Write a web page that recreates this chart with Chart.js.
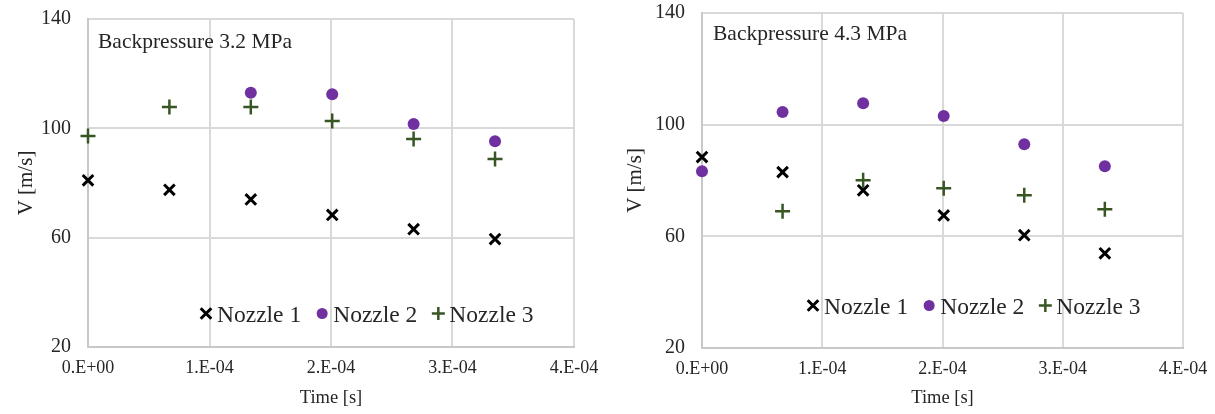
<!DOCTYPE html>
<html><head><meta charset="utf-8">
<script src="https://cdn.jsdelivr.net/npm/chart.js@4/dist/chart.umd.min.js"></script>
<style>
html,body{margin:0;padding:0;background:#fff;}
#wrap{position:relative;width:1215px;height:414px;overflow:hidden;}
#c1{position:absolute;left:0;top:0;}
#c2{position:absolute;left:600px;top:0;}
</style></head><body>
<div id="wrap"><canvas id="c1" width="600" height="414"></canvas><canvas id="c2" width="615" height="414"></canvas></div>
<script>
// ---- data ----
const timeValues = [0, 6.7e-5, 1.34e-4, 2.01e-4, 2.68e-4, 3.35e-4];
const seriesNames = ['Nozzle 1', 'Nozzle 2', 'Nozzle 3'];
const bp32Nozzle1 = [81.0, 77.5, 74.0, 68.3, 63.1, 59.5];
const bp32Nozzle2 = [null, null, 113.0, 112.5, 101.6, 95.3];
const bp32Nozzle3 = [97.2, 107.8, 107.8, 102.7, 96.1, 88.8];
const bp43Nozzle1 = [88.4, 83.0, 76.5, 67.5, 60.4, 53.9];
const bp43Nozzle2 = [83.3, 104.5, 107.7, 103.1, 93.0, 85.1];
const bp43Nozzle3 = [null, 69.0, 80.1, 77.2, 74.7, 69.7];
const yTicks = [20, 60, 100, 140];
const xTicks = [0, 1e-4, 2e-4, 3e-4, 4e-4];
const xTickLabels = ['0.E+00', '1.E-04', '2.E-04', '3.E-04', '4.E-04'];
const panelTitles = ['Backpressure 3.2 MPa', 'Backpressure 4.3 MPa'];
const xTitle = 'Time [s]';
const yTitle = 'V [m/s]';

// ---- styles ----
const SERIF = "'Liberation Serif', 'Times New Roman', serif";
const TEXT = '#262626';
const styles = [
  {pointStyle: 'crossRot', radius: 7.5, borderWidth: 3, borderColor: '#000000', backgroundColor: '#000000', legendRadius: 7.5},
  {pointStyle: 'circle', radius: 6, borderWidth: 0, borderColor: '#7030a0', backgroundColor: '#7030a0', legendRadius: 5.5},
  {pointStyle: 'cross', radius: 7.5, borderWidth: 2.5, borderColor: '#375623', backgroundColor: '#375623', legendRadius: 6.5}
];

function toPoints(vals) {
  const out = [];
  vals.forEach((v, i) => { if (v !== null) out.push({x: timeValues[i], y: v}); });
  return out;
}

const panelPlugin = {
  id: 'panelDecor',
  afterDatasetsDraw(chart, args, opts) {
    const ctx = chart.ctx, ca = chart.chartArea;
    ctx.save();
    ctx.fillStyle = TEXT;
    ctx.font = '21.5px ' + SERIF;
    ctx.textBaseline = 'alphabetic';
    ctx.textAlign = 'left';
    ctx.fillText(opts.title, ca.left + opts.titleDx, ca.top + opts.titleDy);
    ctx.font = '23.5px ' + SERIF;
    let x = ca.left + opts.legendDx;
    const base = ca.top + opts.legendDy;
    chart.data.datasets.forEach((ds, i) => {
      const st = styles[i];
      ctx.strokeStyle = st.borderColor;
      ctx.fillStyle = st.backgroundColor;
      ctx.lineWidth = st.borderWidth;
      Chart.helpers.drawPoint(ctx, {pointStyle: st.pointStyle, radius: st.legendRadius, rotation: 0, borderWidth: st.borderWidth}, x, base - 8.5);
      ctx.fillStyle = TEXT;
      const tx = x + 11;
      ctx.fillText(ds.label, tx, base);
      x = tx + ctx.measureText(ds.label).width + 21;
    });
    ctx.restore();
  }
};

function zeroPad(s) { s.paddingLeft = 0; s.paddingRight = 0; s.paddingTop = 0; s.paddingBottom = 0; }

function makeChart(id, series, geo) {
  const datasets = series.map((vals, i) => ({
    label: seriesNames[i],
    data: toPoints(vals),
    pointStyle: styles[i].pointStyle,
    pointRadius: styles[i].radius,
    pointBorderWidth: styles[i].borderWidth,
    pointBorderColor: styles[i].borderColor,
    pointBackgroundColor: styles[i].backgroundColor,
    borderColor: styles[i].borderColor,
    backgroundColor: styles[i].backgroundColor,
    showLine: false,
    clip: false,
    order: i
  }));
  return new Chart(document.getElementById(id), {
    type: 'scatter',
    data: {datasets},
    plugins: [panelPlugin],
    options: {
      responsive: false,
      animation: false,
      devicePixelRatio: 1,
      layout: {padding: {top: geo.top, right: geo.right, left: 0, bottom: 0}},
      plugins: {
        legend: {display: false},
        tooltip: {enabled: false},
        panelDecor: {title: geo.title, titleDx: geo.titleDx, titleDy: geo.titleDy, legendDx: geo.legendDx, legendDy: geo.legendDy}
      },
      scales: {
        x: {
          type: 'linear', min: xTicks[0], max: xTicks[xTicks.length - 1],
          afterBuildTicks: s => { s.ticks = xTicks.map(v => ({value: v})); },
          afterFit: s => { s.height = geo.xHeight; zeroPad(s); },
          ticks: {callback: (v, i) => xTickLabels[i], font: {family: SERIF, size: 18}, color: TEXT, padding: 10, maxRotation: 0, autoSkip: false},
          grid: {color: '#d9d9d9', lineWidth: 2, drawTicks: false},
          border: {color: '#c8c8c8', width: 2},
          title: {display: true, text: xTitle, font: {family: SERIF, size: 18.5}, color: TEXT, padding: {top: 0, bottom: 5}}
        },
        y: {
          type: 'linear', min: yTicks[0], max: yTicks[yTicks.length - 1],
          afterBuildTicks: s => { s.ticks = yTicks.map(v => ({value: v})); },
          afterFit: s => { s.width = geo.yWidth; zeroPad(s); },
          ticks: {callback: v => String(v), font: {family: SERIF, size: 20}, color: TEXT, padding: 17},
          grid: {color: '#d9d9d9', lineWidth: 2, drawTicks: false},
          border: {color: '#c8c8c8', width: 2},
          title: {display: true, text: yTitle, font: {family: SERIF, size: 21}, color: TEXT, padding: {top: geo.yTitlePad, bottom: 0}}
        }
      }
    }
  });
}

makeChart('c1', [bp32Nozzle1, bp32Nozzle2, bp32Nozzle3],
  {top: 19, right: 26, yWidth: 88, xHeight: 67, yTitlePad: 14, title: panelTitles[0], titleDx: 10, titleDy: 29, legendDx: 118, legendDy: 303});
makeChart('c2', [bp43Nozzle1, bp43Nozzle2, bp43Nozzle3],
  {top: 13, right: 32, yWidth: 102, xHeight: 66, yTitlePad: 23, title: panelTitles[1], titleDx: 11, titleDy: 27, legendDx: 111, legendDy: 301});
</script>
</body></html>
